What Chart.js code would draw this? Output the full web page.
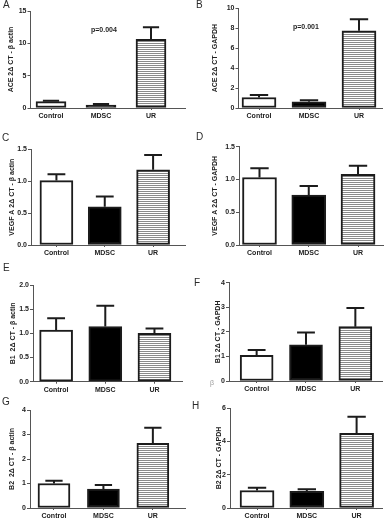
<!DOCTYPE html>
<html>
<head>
<meta charset="utf-8">
<script src="https://cdn.jsdelivr.net/npm/chart.js@4.4.0/dist/chart.umd.min.js"></script>
<style>
  html, body { margin: 0; padding: 0; background: #fff; }
  body { width: 385px; height: 522px; position: relative; overflow: hidden; font-family: "Liberation Sans", Arial, sans-serif; }
  canvas { position: absolute; }
  .tag, .pval, .stray { position: absolute; will-change: transform; white-space: nowrap; }
  .tag { font-size: 10px; line-height: 10px; color: #2a2a2a; }
  .pval { font-size: 7px; line-height: 8px; font-weight: bold; color: #1e1e1e; }
  .stray { font-size: 7px; line-height: 8px; color: #999; }
</style>
</head>
<body>
<div class="tag" style="left:3px;top:0px">A</div>
<div class="tag" style="left:196px;top:0px">B</div>
<div class="tag" style="left:2px;top:133px">C</div>
<div class="tag" style="left:196px;top:132px">D</div>
<div class="tag" style="left:3px;top:263px">E</div>
<div class="tag" style="left:194px;top:278px">F</div>
<div class="tag" style="left:2px;top:397px">G</div>
<div class="tag" style="left:192px;top:401px">H</div>
<div class="pval" style="left:91px;top:26px">p=0.004</div>
<div class="pval" style="left:293px;top:23px">p=0.001</div>
<div class="stray" style="left:210px;top:379px">β</div>

<script>
/* ---------- data ---------- */
const groups = ["Control", "MDSC", "UR"];

const aceActinMean = [0.98, 0.47, 10.6];
const aceActinSem = [0.13, 0.14, 1.9];

const aceGapdhMean = [1.05, 0.63, 7.75];
const aceGapdhSem = [0.25, 0.15, 1.15];

const vegfActinMean = [1.01, 0.60, 1.18];
const vegfActinSem = [0.10, 0.16, 0.23];

const vegfGapdhMean = [1.03, 0.76, 1.08];
const vegfGapdhSem = [0.14, 0.14, 0.13];

const b1ActinMean = [1.07, 1.14, 1.00];
const b1ActinSem = [0.24, 0.43, 0.10];

const b1GapdhMean = [1.04, 1.47, 2.21];
const b1GapdhSem = [0.22, 0.50, 0.76];

const b2ActinMean = [1.00, 0.77, 2.64];
const b2ActinSem = [0.11, 0.17, 0.64];

const b2GapdhMean = [1.05, 1.00, 4.48];
const b2GapdhSem = [0.17, 0.12, 1.00];

/* ---------- panel layout ---------- */
const panels = [
  { title: "ACE 2\u0394 CT - \u03b2 actin", mean: aceActinMean, sem: aceActinSem, yMax: 15, yStep: 5, digits: 0,
    axisX: 30.5, top: 11, zero: 108, end: 185, xMin: 0.59, xMax: 3.68, barW: 30, titleX: 11.5 },
  { title: "ACE 2\u0394 CT - GAPDH", mean: aceGapdhMean, sem: aceGapdhSem, yMax: 10, yStep: 2, digits: 0,
    axisX: 238.5, top: 8.3, zero: 108, end: 382, xMin: 0.59, xMax: 3.46, barW: 34, titleX: 215.5 },
  { title: "VEGF A 2\u0394 CT - \u03b2 actin", mean: vegfActinMean, sem: vegfActinSem, yMax: 1.5, yStep: 0.5, digits: 1,
    axisX: 31, top: 149.3, zero: 245, end: 185, xMin: 0.474, xMax: 3.66, barW: 33, titleX: 12 },
  { title: "VEGF A 2\u0394 CT - GAPDH", mean: vegfGapdhMean, sem: vegfGapdhSem, yMax: 1.5, yStep: 0.5, digits: 1,
    axisX: 239, top: 146.7, zero: 245, end: 383, xMin: 0.584, xMax: 3.507, barW: 34, titleX: 215.5 },
  { title: "B1  2\u0394 CT - \u03b2 actin", mean: b1ActinMean, sem: b1ActinSem, yMax: 2, yStep: 0.5, digits: 1,
    axisX: 33, top: 285, zero: 381.7, end: 182, xMin: 0.53, xMax: 3.56, barW: 33, titleX: 13 },
  { title: "B1 2\u0394 CT - GAPDH", mean: b1GapdhMean, sem: b1GapdhSem, yMax: 4, yStep: 1, digits: 0,
    axisX: 229, top: 282.7, zero: 381, end: 382, xMin: 0.44, xMax: 3.54, barW: 33, titleX: 218 },
  { title: "B2  2\u0394 CT - \u03b2 actin", mean: b2ActinMean, sem: b2ActinSem, yMax: 4, yStep: 1, digits: 0,
    axisX: 30, top: 410, zero: 508, end: 185, xMin: 0.515, xMax: 3.65, barW: 32, titleX: 12 },
  { title: "B2 2\u0394 CT - GAPDH", mean: b2GapdhMean, sem: b2GapdhSem, yMax: 6, yStep: 2, digits: 0,
    axisX: 230, top: 408, zero: 508, end: 382, xMin: 0.457, xMax: 3.51, barW: 34, titleX: 219.5 }
];

Chart.defaults.font.family = "'Liberation Sans', Arial, sans-serif";
Chart.defaults.font.size = 7;
Chart.defaults.font.weight = "bold";
Chart.defaults.color = "#222";

const axisGrey = "#555";
const tickFont = { size: 7, weight: "bold" };

// horizontal stripe fill for the UR bars
const stripe = (ctx) => {
  const tile = document.createElement("canvas");
  tile.width = 4;
  tile.height = 2;
  const g = tile.getContext("2d");
  g.fillStyle = "#ffffff";
  g.fillRect(0, 0, 4, 2);
  g.fillStyle = "#8a8a8a";
  g.fillRect(0, 0, 4, 1);
  return ctx.createPattern(tile, "repeat");
};

// upper SEM whisker with cap, on the value scale
const errorBars = {
  id: "errorBars",
  afterDatasetsDraw(chart, args, opts) {
    const { ctx, scales: { y } } = chart;
    const ds = chart.data.datasets[0];
    ctx.save();
    ctx.strokeStyle = "#1c1c1c";
    ctx.lineWidth = 2;
    chart.getDatasetMeta(0).data.forEach((bar, i) => {
      const top = y.getPixelForValue(ds.data[i].y + opts.sem[i]);
      const half = bar.width * 0.27;
      ctx.beginPath();
      ctx.moveTo(bar.x, bar.y);
      ctx.lineTo(bar.x, top);
      ctx.moveTo(bar.x - half, top);
      ctx.lineTo(bar.x + half, top);
      ctx.stroke();
    });
    ctx.restore();
  }
};

const makePanel = (p) => {
  const L = Math.floor(p.axisX) - 40;
  const T = Math.floor(p.top) - 8;
  const W = Math.ceil(p.end) + 4 - L;
  const H = Math.ceil(p.zero) + 24 - T;
  const canvas = document.createElement("canvas");
  canvas.width = W;
  canvas.height = H;
  canvas.style.left = L + "px";
  canvas.style.top = T + "px";
  canvas.style.width = W + "px";
  canvas.style.height = H + "px";
  document.body.appendChild(canvas);
  const ctx = canvas.getContext("2d");

  new Chart(ctx, {
    type: "bar",
    data: {
      datasets: [{
        data: p.mean.map((v, i) => ({ x: i + 1, y: v })),
        backgroundColor: ["#ffffff", "#000000", stripe(ctx)],
        borderColor: "#1c1c1c",
        borderWidth: 2,
        borderSkipped: false,
        barThickness: p.barW
      }]
    },
    options: {
      responsive: false,
      animation: false,
      devicePixelRatio: 1,
      layout: { padding: { left: 0, top: p.top - T, right: W - (p.end - L), bottom: 0 } },
      plugins: { legend: { display: false }, tooltip: { enabled: false }, errorBars: { sem: p.sem } },
      scales: {
        x: {
          type: "linear",
          offset: false,
          min: p.xMin,
          max: p.xMax,
          afterBuildTicks: (s) => { s.ticks = groups.map((g, i) => ({ value: i + 1 })); },
          afterFit: (s) => { s.height = H - (p.zero - T); },
          ticks: { autoSkip: false, maxRotation: 0, padding: 2, font: tickFont, color: "#222",
            callback: (v) => groups[v - 1] ?? "" },
          grid: { display: true, offset: false, drawOnChartArea: false, drawTicks: true, tickLength: 2, color: axisGrey },
          border: { display: true, color: axisGrey, width: 1 }
        },
        y: {
          min: 0,
          max: p.yMax,
          afterFit: (s) => { s.width = p.axisX - L; },
          ticks: { stepSize: p.yStep, padding: 1, font: tickFont, color: "#222",
            callback: (v) => Number(v).toFixed(p.digits) },
          grid: { display: true, drawOnChartArea: false, drawTicks: true, tickLength: 3, color: axisGrey },
          border: { display: true, color: axisGrey, width: 1 },
          title: { display: true, text: p.title, color: "#222", font: { size: 7, weight: "bold" },
            padding: { top: p.titleX - L - 4.2, bottom: 0 } }
        }
      }
    },
    plugins: [errorBars]
  });
};

panels.forEach(makePanel);
</script>
</body>
</html>
